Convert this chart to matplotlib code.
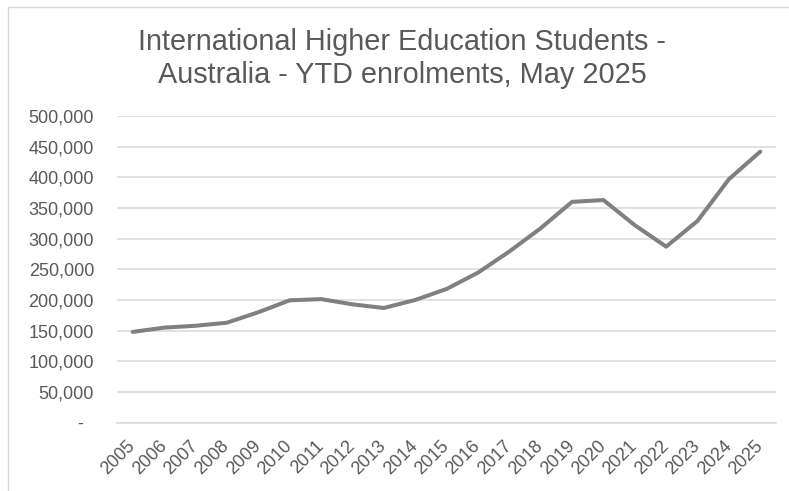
import matplotlib
matplotlib.use("Agg")
import matplotlib.pyplot as plt
from matplotlib.ticker import FuncFormatter
from matplotlib.patches import Rectangle

years = [str(y) for y in range(2005, 2026)]
enrolments = [148000, 155000, 158000, 163000, 180000, 199500, 201500, 193000, 187000,
              200000, 218000, 244500, 279000, 317000, 360000, 363000, 322000, 287000,
              329000, 397000, 442000]
yticks = [0, 50000, 100000, 150000, 200000, 250000, 300000, 350000, 400000, 450000, 500000]
title_lines = ["International Higher Education Students -",
               "Australia - YTD enrolments, May 2025"]

plt.rcParams['font.family'] = ['Liberation Sans', 'DejaVu Sans']
txt = '#595959'

W, H = 789, 491
fig = plt.figure(figsize=(W / 100, H / 100), dpi=100)
fig.patch.set_facecolor('white')

# chart-area border
fig.patches.append(Rectangle((8 / W, -0.1), 1.2, (H - 7) / H + 0.1, transform=fig.transFigure,
                             fill=False, edgecolor='#D9D9D9', linewidth=1.0))

left, right, top, bottom = 117, 776, 116, 422.7
ax = fig.add_axes([left / W, 1 - bottom / H, (right - left) / W, (bottom - top) / H])

x = list(range(len(years)))
ax.plot(x, enrolments, color='#808080', linewidth=2.9, solid_capstyle='round', solid_joinstyle='round', zorder=3)

ax.set_xlim(-0.5, len(years) - 0.5)
ax.set_ylim(0, 500000)
ax.set_yticks(yticks)
ax.yaxis.set_major_formatter(FuncFormatter(lambda v, p: '-  ' if v == 0 else f'{int(v):,}'))
ax.grid(axis='y', color='#D9D9D9', linewidth=1.1, zorder=0)
ax.set_axisbelow(True)

ax.set_xticks(x)
ax.set_xticklabels(years, rotation=45, ha='right', va='center', rotation_mode='anchor')

for s in ['top', 'right', 'left']:
    ax.spines[s].set_visible(False)
ax.spines['bottom'].set_color('#D9D9D9')
ax.spines['bottom'].set_linewidth(1.1)

ax.tick_params(axis='y', length=0, pad=16.5, labelsize=13, labelcolor=txt)
ax.tick_params(axis='x', length=0, pad=15, labelsize=13, labelcolor=txt)

for line, base in zip(title_lines, [50, 83.3]):
    fig.text(402 / W, 1 - base / H, line, ha='center', va='baseline', fontsize=20.8, color=txt)

fig.savefig('out.png', dpi=100, facecolor='white')
